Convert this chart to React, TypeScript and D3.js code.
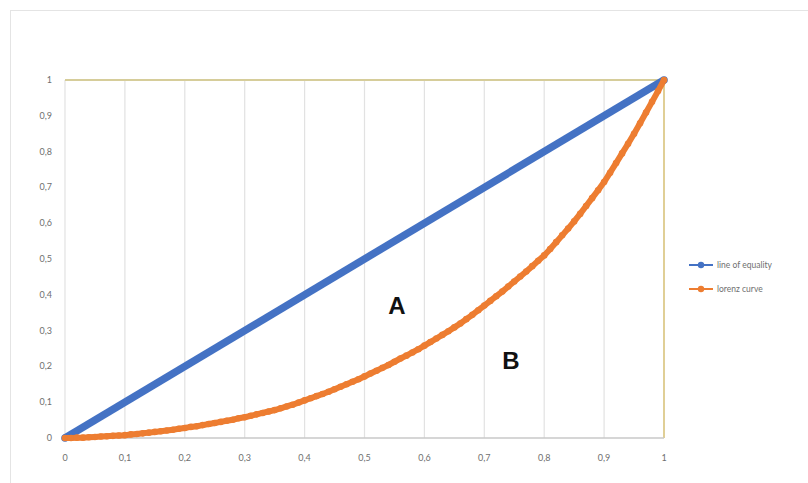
import React, { useEffect, useRef } from 'react';
import * as d3 from 'd3';

// x ticks / grid values
const xTicks = [0, 0.1, 0.2, 0.3, 0.4, 0.5, 0.6, 0.7, 0.8, 0.9, 1];
const yTicks = [0, 0.1, 0.2, 0.3, 0.4, 0.5, 0.6, 0.7, 0.8, 0.9, 1];

// line of equality
const equalityX = [0, 1];
const equalityY = [0, 1];

// lorenz curve, population share (x) vs income share (y)
const lorenzX = [
  0, 0.01, 0.02, 0.03, 0.04, 0.05, 0.06, 0.07, 0.08, 0.09,
  0.1, 0.11, 0.12, 0.13, 0.14, 0.15, 0.16, 0.17, 0.18, 0.19,
  0.2, 0.21, 0.22, 0.23, 0.24, 0.25, 0.26, 0.27, 0.28, 0.29,
  0.3, 0.31, 0.32, 0.33, 0.34, 0.35, 0.36, 0.37, 0.38, 0.39,
  0.4, 0.41, 0.42, 0.43, 0.44, 0.45, 0.46, 0.47, 0.48, 0.49,
  0.5, 0.51, 0.52, 0.53, 0.54, 0.55, 0.56, 0.57, 0.58, 0.59,
  0.6, 0.61, 0.62, 0.63, 0.64, 0.65, 0.66, 0.67, 0.68, 0.69,
  0.7, 0.71, 0.72, 0.73, 0.74, 0.75, 0.76, 0.77, 0.78, 0.79,
  0.8, 0.81, 0.82, 0.83, 0.84, 0.85, 0.86, 0.87, 0.88, 0.89,
  0.9, 0.91, 0.92, 0.93, 0.94, 0.95, 0.96, 0.97, 0.98, 0.99, 1,
];
const lorenzY = [
  0, 0, 0.001, 0.001, 0.002, 0.003, 0.004, 0.005, 0.006, 0.007,
  0.008, 0.01, 0.011, 0.013, 0.015, 0.017, 0.019, 0.021, 0.023, 0.026,
  0.028, 0.031, 0.033, 0.036, 0.039, 0.042, 0.045, 0.048, 0.051, 0.055,
  0.058, 0.062, 0.066, 0.07, 0.074, 0.078, 0.083, 0.088, 0.093, 0.099,
  0.105, 0.111, 0.117, 0.123, 0.129, 0.136, 0.143, 0.15, 0.157, 0.164,
  0.172, 0.18, 0.188, 0.196, 0.204, 0.213, 0.222, 0.23, 0.239, 0.248,
  0.258, 0.268, 0.278, 0.288, 0.298, 0.309, 0.32, 0.332, 0.344, 0.357,
  0.37, 0.383, 0.396, 0.409, 0.423, 0.437, 0.451, 0.465, 0.48, 0.495,
  0.51, 0.528, 0.547, 0.566, 0.585, 0.605, 0.626, 0.648, 0.67, 0.692,
  0.715, 0.741, 0.768, 0.795, 0.822, 0.85, 0.879, 0.909, 0.939, 0.969, 1,
];

const seriesNames = ['line of equality', 'lorenz curve'];
const seriesColors = ['#4472C4', '#ED7D31'];

const fmt = (v: number) => String(v).replace('.', ',');

const App = () => {
  const ref = useRef<SVGSVGElement>(null);

  useEffect(() => {
    const svg = d3.select(ref.current)
      .attr('width', 808)
      .attr('height', 483)
      .style('background-color', '#ffffff');
    svg.selectAll('*').remove();

    const font = 'Lato, "Open Sans", sans-serif';

    // chart frame
    svg.append('rect')
      .attr('x', 10.5).attr('y', 10.5)
      .attr('width', 820).attr('height', 500)
      .attr('fill', 'none')
      .attr('stroke', '#e4e4e4');

    const x = d3.scaleLinear().domain([0, 1]).range([65, 664]);
    const y = d3.scaleLinear().domain([0, 1]).range([438, 80]);

    // vertical grid
    svg.append('g')
      .selectAll('line')
      .data(xTicks.slice(1, -1))
      .enter().append('line')
      .attr('x1', d => x(d)).attr('x2', d => x(d))
      .attr('y1', y(1)).attr('y2', y(0))
      .attr('stroke', '#e2e2e2')
      .attr('stroke-width', 1.2);

    // left axis line
    svg.append('line')
      .attr('x1', x(0)).attr('x2', x(0))
      .attr('y1', y(1)).attr('y2', y(0))
      .attr('stroke', '#e2e2e2').attr('stroke-width', 1.2);

    // top & right border (golden)
    svg.append('line')
      .attr('x1', x(0)).attr('x2', x(1))
      .attr('y1', y(1)).attr('y2', y(1))
      .attr('stroke', '#d6cd9a').attr('stroke-width', 2);
    svg.append('line')
      .attr('x1', x(1)).attr('x2', x(1))
      .attr('y1', y(1)).attr('y2', y(0))
      .attr('stroke', '#e0cf96').attr('stroke-width', 2);

    // bottom axis line
    svg.append('line')
      .attr('x1', x(0)).attr('x2', x(1))
      .attr('y1', y(0)).attr('y2', y(0))
      .attr('stroke', '#c8c8c8').attr('stroke-width', 1.5);

    // tick labels
    svg.append('g')
      .selectAll('text')
      .data(xTicks)
      .enter().append('text')
      .attr('x', d => x(d))
      .attr('y', 461)
      .attr('text-anchor', 'middle')
      .style('font-family', font)
      .style('font-size', '9px')
      .style('fill', '#6f6f6f')
      .text(d => fmt(d));

    svg.append('g')
      .selectAll('text')
      .data(yTicks)
      .enter().append('text')
      .attr('x', 52)
      .attr('y', d => y(d) + 3)
      .attr('text-anchor', 'end')
      .style('font-family', font)
      .style('font-size', '9px')
      .style('fill', '#6f6f6f')
      .text(d => fmt(d));

    const line = d3.line<number>()
      .x((_, i) => x(lorenzX[i]))
      .y(d => y(d));

    // line of equality
    const eqLine = d3.line<number>()
      .x((_, i) => x(equalityX[i]))
      .y(d => y(d));
    svg.append('path')
      .attr('d', eqLine(equalityY))
      .attr('fill', 'none')
      .attr('stroke', seriesColors[0])
      .attr('stroke-width', 7.5);
    svg.append('g')
      .selectAll('circle')
      .data(equalityY)
      .enter().append('circle')
      .attr('cx', (_, i) => x(equalityX[i]))
      .attr('cy', d => y(d))
      .attr('r', 3.8)
      .attr('fill', seriesColors[0]);

    // lorenz curve
    svg.append('path')
      .attr('d', line(lorenzY))
      .attr('fill', 'none')
      .attr('stroke', seriesColors[1])
      .attr('stroke-width', 6);
    svg.append('g')
      .selectAll('circle')
      .data(lorenzY)
      .enter().append('circle')
      .attr('cx', (_, i) => x(lorenzX[i]))
      .attr('cy', d => y(d))
      .attr('r', 3.3)
      .attr('fill', seriesColors[1]);

    // area labels
    svg.append('text')
      .attr('x', 397).attr('y', 314)
      .attr('text-anchor', 'middle')
      .style('font-family', '"Liberation Sans", Arial, sans-serif')
      .style('font-weight', 'bold')
      .style('font-size', '24px')
      .style('fill', '#111')
      .text('A');
    svg.append('text')
      .attr('x', 511).attr('y', 369)
      .attr('text-anchor', 'middle')
      .style('font-family', '"Liberation Sans", Arial, sans-serif')
      .style('font-weight', 'bold')
      .style('font-size', '24px')
      .style('fill', '#111')
      .text('B');

    // legend
    const legend = svg.append('g');
    seriesNames.forEach((name, i) => {
      const ly = 265 + i * 24;
      legend.append('line')
        .attr('x1', 689).attr('x2', 713)
        .attr('y1', ly).attr('y2', ly)
        .attr('stroke', seriesColors[i]).attr('stroke-width', 2);
      legend.append('circle')
        .attr('cx', 701).attr('cy', ly).attr('r', 3.2)
        .attr('fill', seriesColors[i]);
      legend.append('text')
        .attr('x', 717).attr('y', ly + 3)
        .style('font-family', font)
        .style('font-size', '8.5px')
        .style('fill', '#6f6f6f')
        .text(name);
    });
  }, []);

  return (
    <svg ref={ref} style={{ position: 'absolute', left: 0, top: 0 }}></svg>
  );
};

export default App;
